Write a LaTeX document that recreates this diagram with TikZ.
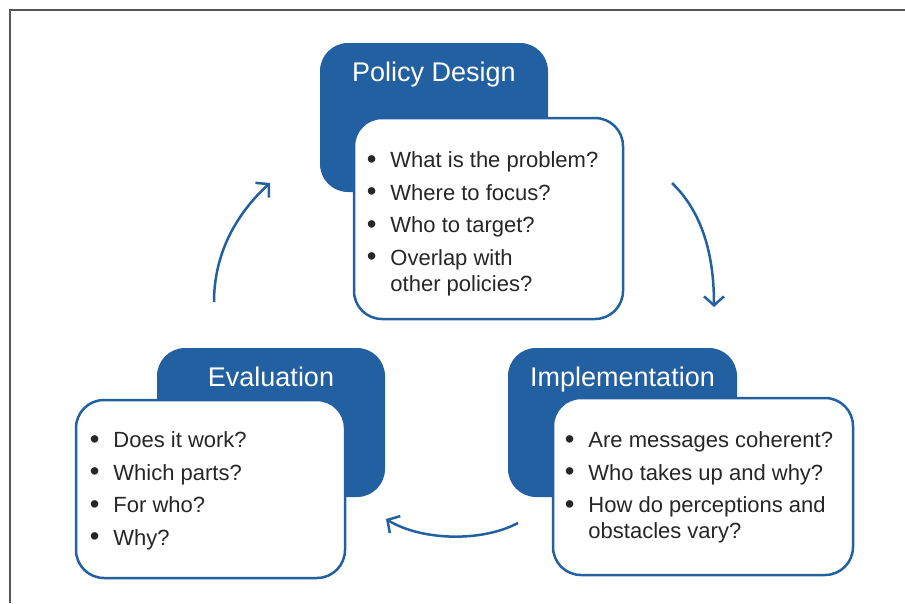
\documentclass[tikz,border=0pt]{standalone}
\usepackage{fontspec}
\setmainfont{Liberation Sans}
\usetikzlibrary{arrows.meta}

\definecolor{cycblue}{HTML}{2260A1}
\definecolor{cyctext}{HTML}{262626}
\definecolor{framegray}{HTML}{555555}

\newcommand{\bl}{\makebox[23.5pt][l]{\raisebox{-0.6pt}{\scalebox{1.25}{\textbullet}}}}

\tikzset{
  tab/.style={rectangle, rounded corners=28pt, fill=cycblue, inner sep=0pt},
  qbox/.style={rectangle, rounded corners=28pt, draw=cycblue, line width=2.5pt, fill=white, inner sep=0pt},
  stage/.style={anchor=base, inner sep=0pt, text=white, font=\fontsize{27}{32}\selectfont},
  qlist/.style={anchor=base west, inner sep=0pt, text=cyctext, font=\fontsize{22}{26}\selectfont},
  cyc/.style={draw=cycblue, line width=2.5pt, -{Straight Barb[length=9pt,width=20pt]}}
}

\begin{document}
\begin{tikzpicture}[x=1pt, y=-1pt]
\useasboundingbox (0,0) rectangle (905,603);
\draw[framegray, line width=1.9pt] (905,10.3) -- (10.3,10.3) -- (10.3,603);

% policy design
\node (pd) at (434,117.5) [tab, minimum width=228pt, minimum height=149pt] {};
\node (pdq) at (488.5,218.5) [qbox, minimum width=269pt, minimum height=201pt] {};
\node (pdt) at ([yshift=-39pt]pd.north) [stage] {Policy Design};
\node (pdl) at ([xshift=14pt, yshift=-51pt]pdq.north west) [qlist]
  {\begin{tabular}[t]{@{}l@{}}
   \bl What is the problem?\\[6.5pt]
   \bl Where to focus?\\[6.5pt]
   \bl Who to target?\\[6.5pt]
   \bl Overlap with\\
   \hspace*{23.5pt}other policies?
   \end{tabular}};

% implementation
\node (im) at (622.5,422.5) [tab, minimum width=229pt, minimum height=149pt] {};
\node (imq) at (703,486.5) [qbox, minimum width=300pt, minimum height=177pt] {};
\node (imt) at ([yshift=-39pt]im.north) [stage] {Implementation};
\node (iml) at ([xshift=13pt, yshift=-51pt]imq.north west) [qlist]
  {\begin{tabular}[t]{@{}l@{}}
   \bl Are messages coherent?\\[6.5pt]
   \bl Who takes up and why?\\[6.5pt]
   \bl How do perceptions and\\
   \hspace*{23.5pt}obstacles vary?
   \end{tabular}};

% evaluation
\node (ev) at (271,422.5) [tab, minimum width=228pt, minimum height=149pt] {};
\node (evq) at (210.5,489) [qbox, minimum width=269pt, minimum height=178pt] {};
\node (evt) at ([yshift=-39pt]ev.north) [stage] {Evaluation};
\node (evl) at ([xshift=15pt, yshift=-49pt]evq.north west) [qlist]
  {\begin{tabular}[t]{@{}l@{}}
   \bl Does it work?\\[6.5pt]
   \bl Which parts?\\[6.5pt]
   \bl For who?\\[6.5pt]
   \bl Why?
   \end{tabular}};

% cycle arrows
\coordinate (pd-out) at (672,183);
\coordinate (im-in) at (714,307);
\coordinate (im-out) at (518,523);
\coordinate (ev-in) at (386,519);
\coordinate (ev-out) at (214,302);
\coordinate (pd-in) at (270,183);

\draw[cyc] (pd-out) .. controls (700,210) and (714,250) .. (im-in);
\draw[cyc] (im-out) .. controls (480,543) and (420,540) .. (ev-in);
\draw[cyc] (ev-out) .. controls (214,255) and (235,215) .. (pd-in);
\end{tikzpicture}
\end{document}
